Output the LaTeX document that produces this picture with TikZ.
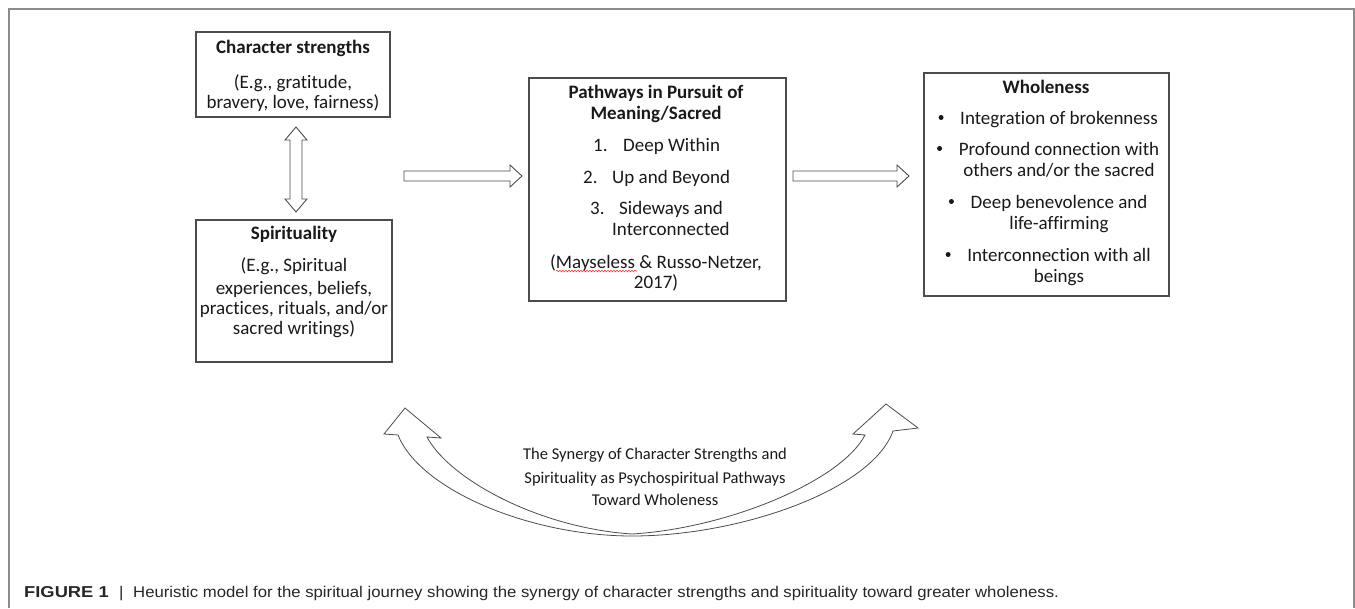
\documentclass[tikz,border=0pt]{standalone}
\usepackage{fontspec}
\setmainfont[Ligatures=NoCommon]{Carlito}
\newfontfamily\capfont[FakeStretch=1.08]{Liberation Sans}
\newfontfamily\capboldfont[FakeStretch=1.16]{Liberation Sans}
\usetikzlibrary{calc,decorations.pathmorphing}
\tikzset{
  frame/.style={draw=black!45, line width=1.5pt},
  box/.style={draw=black!70, line width=1.2pt, inner sep=0pt},
  blk/.style={draw=black!70, fill=white, line width=0.9pt, line join=miter},
  txt/.style={font=\fontsize{19}{22}\selectfont, inner sep=0pt, anchor=base, text=black!90},
  btxt/.style={txt, font=\fontsize{19}{22}\selectfont\bfseries},
  stxt/.style={txt, font=\fontsize{16.5}{20}\selectfont},
  captxt/.style={font=\fontsize{15.5}{18}\selectfont\capfont, inner sep=0pt, anchor=base west, text=black!85},
  capbtxt/.style={captxt, font=\fontsize{15.8}{18}\selectfont\capboldfont\bfseries},
  bul/.style={fill=black!90}
}
\newcommand{\hblkarrow}[2]{%
  \draw[blk] ($(#1)+(0,-5)$) -- ($(#2)+(-12,-5)$) -- ($(#2)+(-12,-11)$) -- (#2)
    -- ($(#2)+(-12,11)$) -- ($(#2)+(-12,5)$) -- ($(#1)+(0,5)$) -- cycle;}
\begin{document}
\begin{tikzpicture}[x=1pt,y=-1pt]
\useasboundingbox (0,0) rectangle (1355,608);
% outer frame
\draw[frame] (9,608) -- (9,9) -- (1354,9) -- (1354,608);

% boxes
\node[box, minimum width=194pt, minimum height=85pt] (cs) at (293,74.5) {};
\node[box, minimum width=196pt, minimum height=142pt] (sp) at (294,291) {};
\node[box, minimum width=257pt, minimum height=223pt] (pw) at (657.5,189.5) {};
\node[box, minimum width=245pt, minimum height=223pt] (wh) at (1046.5,184.5) {};

% character strengths text
\node[btxt] (cs1) at (293,53) {Character strengths};
\node[txt] (cs2) at (293,88) {(E.g., gratitude,};
\node[txt] (cs3) at (293,108) {bravery, love, fairness)};

% spirituality text
\node[btxt] (sp1) at (294,239) {Spirituality};
\node[txt] (sp2) at (294,271) {(E.g., Spiritual};
\node[txt] (sp3) at (294,294) {experiences, beliefs,};
\node[txt] (sp4) at (294,314) {practices, rituals, and/or};
\node[txt] (sp5) at (294,334) {sacred writings)};

% pathways text
\node[btxt] (pw1) at (656,98) {Pathways in Pursuit of};
\node[btxt] (pw2) at (656,119) {Meaning/Sacred};
\node[txt, anchor=base west] (pn1) at (593,151) {1.};
\node[txt, anchor=base west] (pt1) at (623,151) {Deep Within};
\node[txt, anchor=base west] (pn2) at (583,183) {2.};
\node[txt, anchor=base west] (pt2) at (612,183) {Up and Beyond};
\node[txt, anchor=base west] (pn3) at (590,214) {3.};
\node[txt, anchor=base west] (pt3) at (619,214) {Sideways and};
\node[txt, anchor=base west] (pt3b) at (612,235) {Interconnected};
\node[txt] (pw3) at (656,268) {(Mayseless \& Russo-Netzer,};
\node[txt] (pw4) at (656,288) {2017)};
\coordinate (sq1) at (556,271);
\coordinate (sq2) at (637,271);
\draw[red!80, line width=0.6pt, decorate, decoration={snake, amplitude=0.8pt, segment length=3pt}] (sq1) -- (sq2);

% wholeness text
\node[btxt] (wh1) at (1046,93) {Wholeness};
\node[txt] (w1) at (1059,124) {Integration of brokenness};
\node[txt] (w2) at (1059,155) {Profound connection with};
\node[txt] (w2b) at (1059,176) {others and/or the sacred};
\node[txt] (w3) at (1059,208) {Deep benevolence and};
\node[txt] (w3b) at (1059,229) {life-affirming};
\node[txt] (w4) at (1059,261) {Interconnection with all};
\node[txt] (w4b) at (1059,282) {beings};
\foreach \w in {w1,w2,w3,w4}
  \fill[bul] ($(\w.base west)+(-19,-6.5)$) circle (2.5);

% vertical double arrow
\coordinate (va) at (296,127);
\coordinate (vb) at (296,212);
\draw[blk] (va) -- ($(va)+(11,13)$) -- ($(va)+(6,13)$) -- ($(vb)+(6,-13)$) -- ($(vb)+(11,-13)$)
  -- (vb) -- ($(vb)+(-11,-13)$) -- ($(vb)+(-6,-13)$) -- ($(va)+(-6,13)$) -- ($(va)+(-11,13)$) -- cycle;

% horizontal block arrows
\coordinate (h1a) at (404,176);
\coordinate (h1b) at (522,176);
\coordinate (h2a) at (793,176);
\coordinate (h2b) at (909,176);
\hblkarrow{h1a}{h1b}
\hblkarrow{h2a}{h2b}

% curved double block arrow
\coordinate (lt) at (405,408);
\coordinate (rt) at (886,404);
\coordinate (bot) at (632,534);
\draw[blk, line width=0.8pt] (398,435) -- (384,434) -- (lt) -- (441,438) -- (427,437)
  .. controls (450,480) and (540,528) .. (bot)
  .. controls (730,528) and (842,480) .. (865,435)
  -- (853,434) -- (rt) -- (918,428) -- (893,431)
  .. controls (872,490) and (740,536) .. (632,536)
  .. controls (530,536) and (420,490) .. (398,435) -- cycle;

% curved arrow label
\node[stxt] (sy1) at (655,459) {The Synergy of Character Strengths and};
\node[stxt] (sy2) at (655,483) {Spirituality as Psychospiritual Pathways};
\node[stxt] (sy3) at (655,505) {Toward Wholeness};

% caption
\node[capbtxt] (c1) at (24,597) {FIGURE 1};
\node[captxt] (c2) at (119,597) {|};
\node[captxt] (c3) at (133,597) {Heuristic model for the spiritual journey showing the synergy of character strengths and spirituality toward greater wholeness.};
\end{tikzpicture}
\end{document}
